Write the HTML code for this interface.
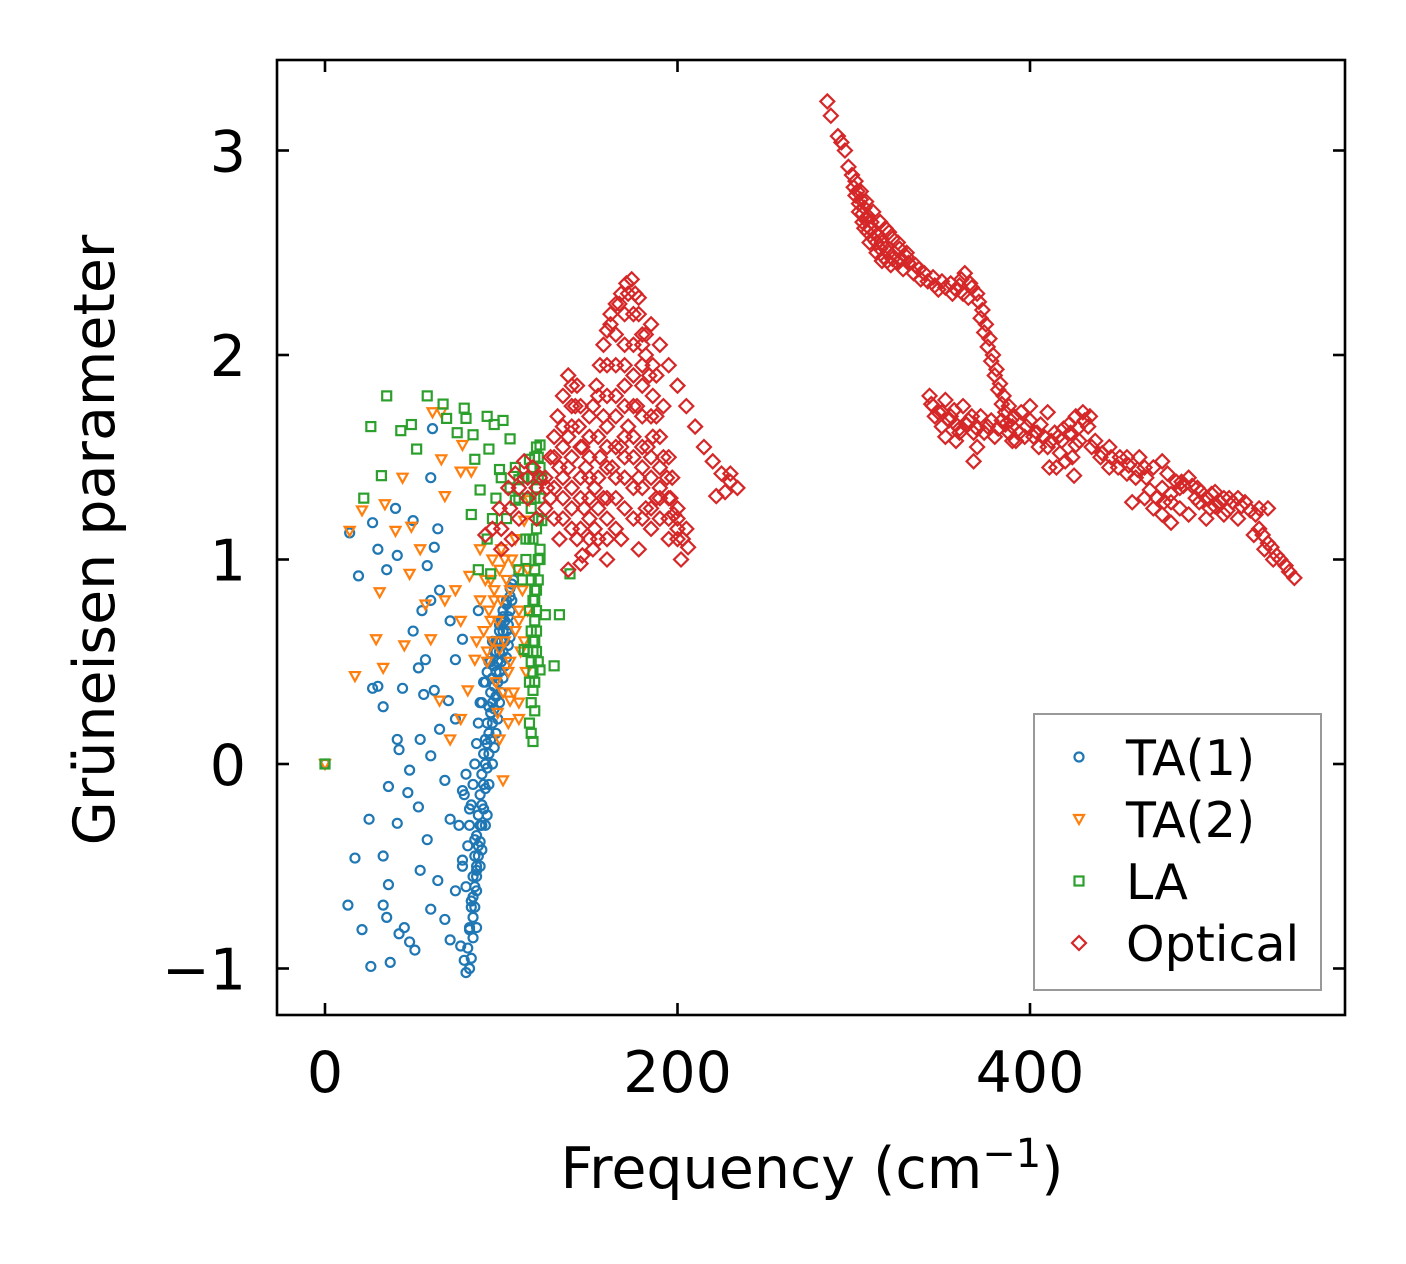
<!DOCTYPE html>
<html><head><meta charset="utf-8"><style>
body{margin:0;background:#fff}
svg{display:block;font-family:"DejaVu Sans","Liberation Sans",sans-serif}
</style></head><body>
<svg id="chart" width="1406" height="1264" viewBox="0 0 1406 1264" xmlns="http://www.w3.org/2000/svg">
<rect width="1406" height="1264" fill="#fff"/>
<g id="marks"></g>
<g id="axes"></g>
<text transform="translate(114,540) rotate(-90)" text-anchor="middle" font-size="57">Grüneisen parameter</text>
<text x="812" y="1188" text-anchor="middle" font-size="57">Frequency (cm<tspan font-size="40" dy="-21">−1</tspan><tspan dy="21">)</tspan></text>
<g id="legend">
<rect x="1034" y="714" width="287" height="276" fill="#fff" stroke="#999" stroke-width="2"/>
</g>
</svg>
<script>
const xTicks=[0,200,400];
const yTicks=[-1,0,1,2,3];
const yTickLabels=["−1","0","1","2","3"];
const seriesNames=["TA(1)","TA(2)","LA","Optical"];
const ta1X=[0,13,21,26,37,17,25,36,33,30,27,19,14,27,30,35,41,40,50,60,61,64,55,50,53,44,41,42,48,47,53,41,33,36,33,35,45,42,48,51,54,58,60,64,68,71,74,77,80,79,82,83,78,71,68,65,70,74,78,74,62,57,60,65,71,58,62,56,54,60,78,82,85,86,87,
84,85,86,87,88,89,90,91,92,93,94,95,96,97,98,99,100,101,103,105,107,86,87,88,89,90,91,92,93,94,95,96,97,98,99,100,101,102,104,83,82,84,81,80,81,82,83,84,85,86,87,88,90,92,94,96,78,76,79,80,89,91,93,95,97,99,101,103,105,106,
85,86,87,88,89,90,91,92,93,94,95,96,97,98,99,100,101,102,103,104,105,106,84,85,86,88,89,91,92,93,95,96,97,98,99,100,101,102,103,104,105,86,84,83,82];
const ta1Y=[0,-0.69,-0.81,-0.99,-0.97,-0.46,-0.27,-0.11,0.28,0.38,0.37,0.92,1.13,1.18,1.05,0.95,1.02,1.25,1.19,1.40,1.64,1.15,0.75,0.65,0.47,0.37,0.12,0.07,-0.03,-0.14,-0.21,-0.29,-0.45,-0.59,-0.69,-0.75,-0.80,-0.83,-0.87,-0.91,-0.52,-0.37,-0.71,-0.57,-0.76,-0.86,-0.62,-0.89,-1.02,-0.96,-0.81,-0.67,-0.47,-0.27,-0.08,0.17,0.31,0.51,0.61,0.22,0.36,0.51,0.80,0.85,0.70,0.97,1.06,0.34,0.12,0.04,-0.13,-0.22,-0.37,-0.52,0.75,
-0.55,-0.45,-0.35,-0.25,-0.15,-0.05,0.05,0.12,0.2,0.28,0.35,0.42,0.48,0.55,0.6,0.65,0.7,0.75,0.8,0.86,0.9,-0.5,-0.4,-0.3,-0.2,-0.1,0.0,0.1,0.15,0.25,0.3,0.38,0.45,0.5,0.55,0.6,0.65,0.7,0.72,-0.7,-0.8,-0.85,-0.9,-0.6,-0.4,-0.3,-0.2,-0.1,0.0,0.1,0.2,0.3,0.4,0.45,0.5,0.55,-0.5,-0.3,-0.15,-0.05,0.3,0.4,0.5,0.6,0.6,0.68,0.72,0.78,0.82,0.88,
-0.6,-0.55,-0.45,-0.38,-0.3,-0.22,-0.12,-0.02,0.05,0.12,0.2,0.27,0.33,0.4,0.45,0.5,0.55,0.6,0.65,0.68,0.75,0.8,-0.65,-0.7,-0.62,-0.5,-0.42,-0.3,-0.25,-0.1,0.0,0.08,0.15,0.22,0.3,0.35,0.42,0.48,0.52,0.58,0.62,-0.8,-0.75,-0.95,-1.0];
const ta2X=[0,17,29,33,31,14,21,34,40,44,49,48,54,61,66,66,68,77,78,83,45,57,60,68,74,77,82,88,85,81,99,101,105,110,96,102,108,113,116,110,99,94,91,65,77,71,
92,95,98,100,103,106,109,112,115,93,96,99,102,105,108,111,114,90,94,97,101,104,107,110,113,95,100,105,110,115,88,92,86,98,104];
const ta2Y=[0,0.43,0.61,0.47,0.84,1.14,1.24,1.27,1.14,1.40,1.16,0.93,1.05,1.72,1.72,1.49,1.31,1.43,1.56,1.43,0.58,0.78,0.61,0.80,0.85,0.70,0.92,1.05,0.51,0.36,0.12,-0.08,0.31,0.22,0.80,1.0,1.10,1.19,1.29,0.75,0.56,0.70,0.90,0.31,0.22,0.12,
0.5,0.6,0.7,0.8,0.9,1.0,0.95,0.85,0.75,0.75,0.85,0.95,0.6,0.5,0.65,0.55,0.45,0.65,0.9,0.4,0.35,0.45,0.35,0.3,0.6,1.0,1.05,0.85,0.7,0.95,0.8,0.55,0.6,0.25,0.2];
const laX=[0,26,35,58,22,32,43,49,52,67,69,79,80,84,92,96,101,105,75,85,93,99,83,88,92,87,94,139,133,125,130,122,118,119,118,113,119,122,123,121,122,116,110,108,114,110,
117,118,119,120,121,122,121,120,119,118,117,118,119,118,117,118,116,117,120,115,114,112,110,112,108,105,103,100,97,95,120,121,122,119,
118,119,120,121,120,119,118,117,116,122,123,121,117,116,115,116,119,120];
const laY=[0,1.65,1.80,1.80,1.30,1.41,1.63,1.66,1.54,1.76,1.69,1.74,1.69,1.61,1.70,1.66,1.68,1.59,1.62,1.49,1.54,1.44,1.22,1.34,1.10,0.95,0.93,0.93,0.73,0.73,0.48,0.46,0.36,0.26,0.11,0.56,0.80,1.0,1.19,1.39,1.56,1.49,1.39,1.29,1.10,0.95,
0.3,0.45,0.6,0.75,0.9,1.05,1.2,1.35,1.5,1.4,1.25,1.1,0.95,0.8,0.65,0.55,0.2,0.15,1.55,1.3,1.0,0.9,1.3,1.4,1.45,1.35,1.2,1.4,1.3,1.2,0.65,0.5,1.45,0.85,
1.45,1.3,1.15,1.0,0.85,0.7,0.6,0.5,0.4,1.3,1.4,1.5,0.9,0.75,0.55,1.1,0.4,0.55];
const optX=[285,287,291,293,295,297,299,301,302,304,306,303,308,310,306,312,314,309,316,318,313,320,316,322,325,320,325,330,335,340,345,350,355,360,363,366,370,373,375,377,379,381,383,385,388,391,328,338,348,356,365,
343,345,348,352,355,358,362,365,368,372,376,380,384,388,392,395,398,402,406,410,414,418,422,426,430,433,428,424,420,415,435,440,445,450,455,460,465,470,475,480,485,490,495,500,505,510,515,520,525,530,535,540,545,550,470,478,486,494,502,510,518,500,490,480,527,533,538,350,360,370,368,400,410,445,455,462,411,425,458,475,530,535,
91,95,99,104,108,113,118,122,126,128,130,132,135,138,140,142,144,146,148,150,152,154,156,158,160,162,165,168,171,174,176,178,180,182,184,186,188,190,192,194,196,198,200,203,206,130,133,135,138,140,143,146,150,153,156,158,160,163,165,168,170,172,175,177,180,183,185,188,175,170,165,160,155,178,182,150,145,140,135,125,120,115,110,106,100,185,190,195,200,205,210,215,220,225,230,234,222,227,230,168,160,145,138,152,195,200,190,185,178,190,195,186,180,
300,301,303,305,307,309,311,313,315,317,319,321,323,327,331,334,337,342,346,352,358,362,361,367,371,372,374,376,378,380,382,384,386,389,304,307,311,315,318,322,326,330,305,308,
344,346,350,354,357,360,364,367,370,374,378,382,386,390,394,397,400,404,408,412,416,419,423,427,431,434,437,441,446,451,456,461,466,468,472,476,480,483,487,492,497,503,508,513,518,522,528,532,537,542,547,352,358,390,405,417,426,496,505,485,475,465,512,
130,130,135,135,135,140,140,140,140,145,145,145,145,150,150,150,150,155,155,155,155,160,160,160,160,160,160,165,165,165,165,165,165,170,170,170,170,170,170,170,175,175,175,175,175,175,180,180,180,180,180,185,185,185,190,190,195,195,200,200,205,125,120,115,110,105,100,128,133,138,143,147,153,158,162,167,172,178,182,188,192,197,202,186,180];
const optY=[3.24,3.17,3.07,3.04,3.0,2.92,2.88,2.85,2.80,2.76,2.72,2.70,2.68,2.65,2.62,2.60,2.58,2.55,2.55,2.52,2.50,2.50,2.46,2.47,2.45,2.60,2.55,2.48,2.44,2.40,2.38,2.36,2.35,2.34,2.40,2.35,2.30,2.22,2.15,2.08,2.00,1.93,1.86,1.80,1.75,1.70,2.42,2.37,2.32,2.30,2.28,
1.80,1.75,1.72,1.78,1.70,1.66,1.75,1.68,1.62,1.70,1.65,1.60,1.68,1.62,1.58,1.72,1.65,1.60,1.66,1.55,1.62,1.58,1.66,1.70,1.72,1.65,1.58,1.50,1.48,1.45,1.55,1.50,1.55,1.45,1.50,1.40,1.30,1.25,1.22,1.28,1.35,1.40,1.35,1.30,1.33,1.30,1.28,1.26,1.24,1.15,1.08,1.02,0.97,0.91,1.45,1.42,1.38,1.30,1.25,1.22,1.20,1.20,1.22,1.18,1.12,1.05,1.00,1.65,1.62,1.55,1.48,1.75,1.72,1.45,1.42,1.50,1.45,1.41,1.28,1.48,1.25,1.25,
1.12,1.15,1.25,1.35,1.42,1.48,1.45,1.40,1.35,1.50,1.60,1.70,1.80,1.90,1.85,1.75,1.65,1.55,1.45,1.60,1.75,1.85,1.95,2.05,2.12,2.20,2.25,2.30,2.35,2.37,2.30,2.20,2.10,2.00,1.90,1.80,1.70,1.60,1.50,1.40,1.30,1.22,1.15,1.10,1.06,1.20,1.10,1.30,1.45,1.25,1.10,1.02,1.20,1.35,1.50,1.30,1.65,1.45,1.80,1.55,1.95,1.65,2.05,1.75,1.85,1.55,1.40,1.30,1.50,1.40,1.30,1.20,1.10,1.40,1.25,1.40,1.30,1.65,1.55,1.25,1.20,1.30,1.20,1.10,1.05,2.15,2.05,1.95,1.85,1.75,1.65,1.55,1.48,1.42,1.38,1.35,1.31,1.33,1.42,1.10,1.00,0.98,0.95,1.05,1.10,1.25,1.20,1.15,1.05,1.35,1.50,1.60,1.45,
2.82,2.78,2.74,2.69,2.66,2.62,2.57,2.55,2.52,2.48,2.46,2.44,2.50,2.47,2.45,2.40,2.42,2.36,2.34,2.33,2.32,2.30,2.37,2.33,2.26,2.18,2.11,2.04,1.97,1.90,1.83,1.76,1.72,1.68,2.80,2.75,2.70,2.65,2.62,2.57,2.52,2.50,2.65,2.60,
1.76,1.70,1.72,1.68,1.73,1.64,1.66,1.70,1.64,1.62,1.68,1.64,1.66,1.65,1.62,1.60,1.68,1.62,1.60,1.58,1.60,1.64,1.62,1.64,1.68,1.70,1.58,1.52,1.50,1.50,1.46,1.44,1.40,1.34,1.30,1.28,1.32,1.38,1.36,1.36,1.33,1.32,1.28,1.30,1.30,1.28,1.22,1.12,1.06,1.00,0.94,1.60,1.58,1.58,1.55,1.52,1.56,1.28,1.26,1.25,1.35,1.45,1.24,
1.35,1.50,1.20,1.40,1.65,1.15,1.35,1.50,1.75,1.15,1.40,1.55,1.75,1.10,1.30,1.50,1.70,1.25,1.40,1.60,1.80,1.10,1.30,1.45,1.55,1.80,1.95,1.15,1.40,1.55,1.70,1.95,2.10,1.25,1.50,1.60,1.75,1.85,2.05,2.20,1.20,1.35,1.60,1.75,1.90,2.20,1.20,1.35,1.55,1.70,1.95,1.25,1.50,1.70,1.30,1.45,1.20,1.30,1.10,1.20,1.15,1.40,1.35,1.40,1.35,1.25,1.15,1.30,1.45,1.60,1.85,1.25,1.15,1.70,2.15,2.25,2.30,2.28,2.10,1.90,1.75,1.40,1.00,1.95,2.05];

const L=277,R=1345,T=60,B=1015;
function sx(v){return 325+v*1.7625;}
function sy(v){return 764-v*204.5;}
const NS="http://www.w3.org/2000/svg";
const marks=document.getElementById('marks');
const colors=["#1f77b4","#ff7f0e","#2ca02c","#d62728"];
function marker(kind,x,y,c,parent){
  let el;
  if(kind===0){el=document.createElementNS(NS,'circle');el.setAttribute('cx',x);el.setAttribute('cy',y);el.setAttribute('r',4.5);}
  else if(kind===1){el=document.createElementNS(NS,'polygon');el.setAttribute('points',`${x-5},${y-4} ${x+5},${y-4} ${x},${y+5}`);}
  else if(kind===2){el=document.createElementNS(NS,'rect');el.setAttribute('x',x-4.5);el.setAttribute('y',y-4.5);el.setAttribute('width',9);el.setAttribute('height',9);}
  else {el=document.createElementNS(NS,'polygon');el.setAttribute('points',`${x},${y-7} ${x+7},${y} ${x},${y+7} ${x-7},${y}`);}
  el.setAttribute('fill','none');el.setAttribute('stroke',c);el.setAttribute('stroke-width',2.2);
  parent.appendChild(el);return el;
}
const sets=[[ta1X,ta1Y],[ta2X,ta2Y],[laX,laY],[optX,optY]];
const names=['ta1-point','ta2-point','la-point','optical-point'];
sets.forEach((s,k)=>{
  const g=document.createElementNS(NS,'g');
  
  
  marks.appendChild(g);
  for(let i=0;i<s[0].length;i++){
    const el=marker(k,sx(s[0][i]),sy(s[1][i]),colors[k],g);
    
    
  }
});
const axes=document.getElementById('axes');
let h=`<rect x="${L}" y="${T}" width="${R-L}" height="${B-T}" fill="none" stroke="#000" stroke-width="2.6"/>`;
xTicks.forEach(v=>{const x=sx(v);
  h+=`<line x1="${x}" y1="${B}" x2="${x}" y2="${B-12}" stroke="#000" stroke-width="2.6"/><line x1="${x}" y1="${T}" x2="${x}" y2="${T+12}" stroke="#000" stroke-width="2.6"/>`;
  h+=`<text x="${x}" y="1092" text-anchor="middle" font-size="57">${v}</text>`;});
yTicks.forEach((v,i)=>{const y=sy(v);
  h+=`<line x1="${L}" y1="${y}" x2="${L+12}" y2="${y}" stroke="#000" stroke-width="2.6"/><line x1="${R}" y1="${y}" x2="${R-12}" y2="${y}" stroke="#000" stroke-width="2.6"/>`;
  h+=`<text x="246" y="${y+21}" text-anchor="end" font-size="57">${yTickLabels[i]}</text>`;});
axes.innerHTML=h;
const leg=document.getElementById('legend');
seriesNames.forEach((n,k)=>{
  const y=757+k*62;
  const m=marker(k,1079,y,colors[k],leg);
  
  
  const t=document.createElementNS(NS,'text');
  t.setAttribute('x',1126);t.setAttribute('y',y+18);t.setAttribute('font-size',49);
  t.textContent=n;
  
  
  leg.appendChild(t);
});
</script>
</body></html>
